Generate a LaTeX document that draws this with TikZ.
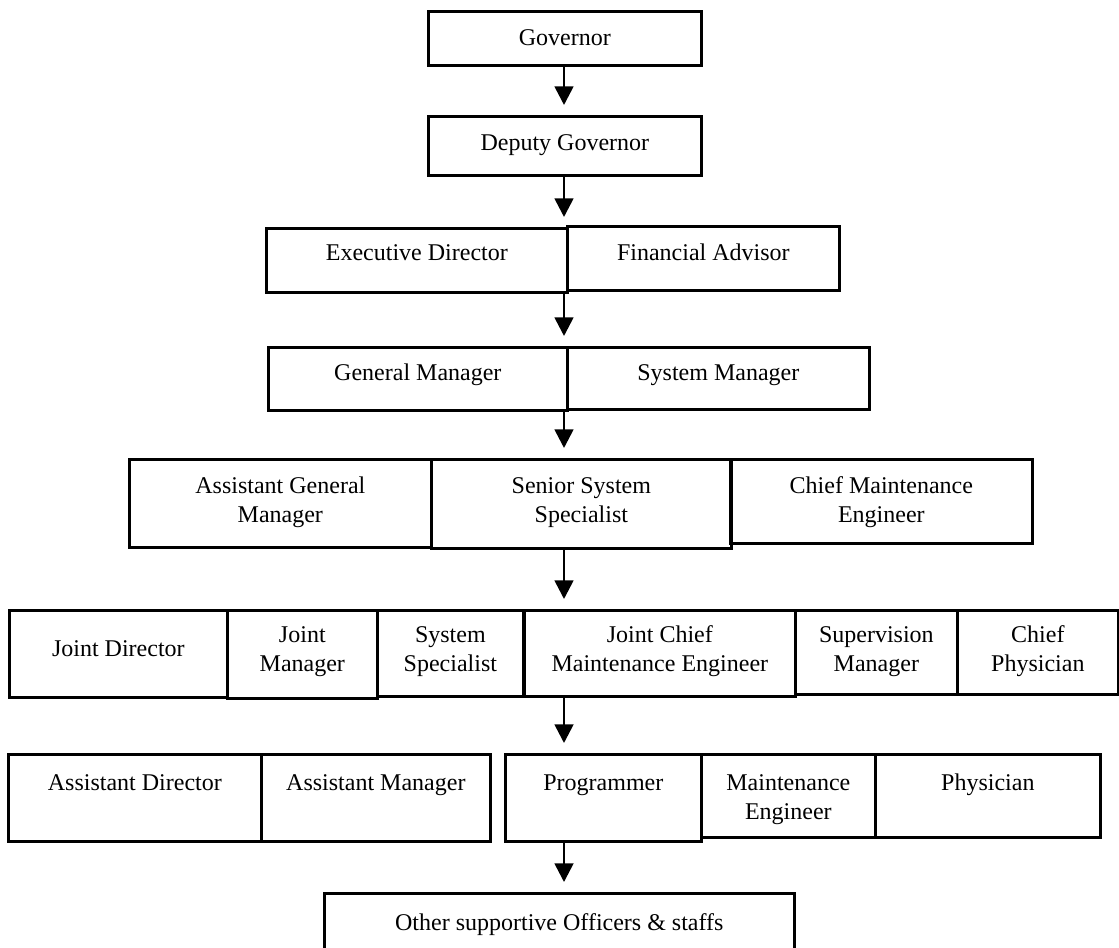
\documentclass[tikz,border=0pt]{standalone}
\usepackage{fontspec}
\setmainfont{Liberation Serif}
\usetikzlibrary{arrows.meta}
\newcommand{\jobtitle}[1]{\begin{tabular}[t]{@{}c@{}}#1\end{tabular}}

\begin{document}
\begin{tikzpicture}
  [x=0.75pt, y=-0.75pt,
   every node/.style={font=\fontsize{18}{21.5}\selectfont},
   cell/.code n args={3}{%
     \pgfmathsetmacro\cellht{#3*0.75}\pgfmathsetmacro\celldp{(#2-#3)*0.75}%
     \tikzset{draw, line width=2pt, inner sep=0pt, anchor=north west,
       minimum width=#1*0.75pt, text height=\cellht pt, text depth=\celldp pt}},
   link/.style={line width=2pt, -{Triangle[width=14pt,length=14pt]}, shorten >=7.5pt}]
  \useasboundingbox (0,0) rectangle (1119,947);
  \clip (0,0) rectangle (1119,947);
  \node[cell={273}{54}{34}] (gov) at (427,10) {\jobtitle{Governor}};
  \node[cell={273}{59}{34}] (dep) at (427,115) {\jobtitle{Deputy Governor}};
  \node[cell={301}{64}{32}] (exd) at (265,227) {\jobtitle{Executive Director}};
  \node[cell={272}{64}{34}] (fin) at (566,225) {\jobtitle{Financial Advisor}};
  \node[cell={299}{63}{33}] (gm) at (267,346) {\jobtitle{General Manager}};
  \node[cell={302}{62}{33}] (sm) at (566,346) {\jobtitle{System Manager}};
  \node[cell={302}{88}{34}] (agm) at (128,458) {\jobtitle{Assistant General\\Manager}};
  \node[cell={300}{89}{34}] (sss) at (430,458) {\jobtitle{Senior System\\Specialist}};
  \node[cell={302}{84}{34}] (cme) at (729,458) {\jobtitle{Chief Maintenance\\Engineer}};
  \node[cell={218}{87}{46}] (jd) at (8,609) {\jobtitle{Joint Director}};
  \node[cell={150}{88}{32}] (jm) at (226,609) {\jobtitle{Joint\\Manager}};
  \node[cell={146}{86}{32}] (ss) at (376,609) {\jobtitle{System\\Specialist}};
  \node[cell={271}{86}{32}] (jcme) at (523,609) {\jobtitle{Joint Chief\\Maintenance Engineer}};
  \node[cell={162}{84}{32}] (svm) at (794,609) {\jobtitle{Supervision\\Manager}};
  \node[cell={161}{84}{32}] (cp) at (956,609) {\jobtitle{Chief\\Physician}};
  \node[cell={253}{87}{36}] (ad) at (7,753) {\jobtitle{Assistant Director}};
  \node[cell={229}{87}{36}] (am) at (260,753) {\jobtitle{Assistant Manager}};
  \node[cell={196}{87}{36}] (prog) at (504,753) {\jobtitle{Programmer}};
  \node[cell={174}{83}{36}] (me) at (700,753) {\jobtitle{Maintenance\\Engineer}};
  \node[cell={225}{83}{36}] (phy) at (874,753) {\jobtitle{Physician}};
  \node[cell={470}{80}{37}] (other) at (323,892) {\jobtitle{Other supportive Officers \& staffs}};
  \coordinate (spine) at (564,0);
  \draw[link] (gov.south -| spine) -- (dep.north -| spine);
  \draw[link] (dep.south -| spine) -- (exd.north -| spine);
  \draw[link] (exd.south -| spine) -- (gm.north -| spine);
  \draw[link] (gm.south -| spine) -- (sss.north -| spine);
  \draw[link] (sss.south -| spine) -- (jcme.north -| spine);
  \draw[link] (jcme.south -| spine) -- (prog.north -| spine);
  \draw[link] (prog.south -| spine) -- (other.north -| spine);
\end{tikzpicture}
\end{document}
